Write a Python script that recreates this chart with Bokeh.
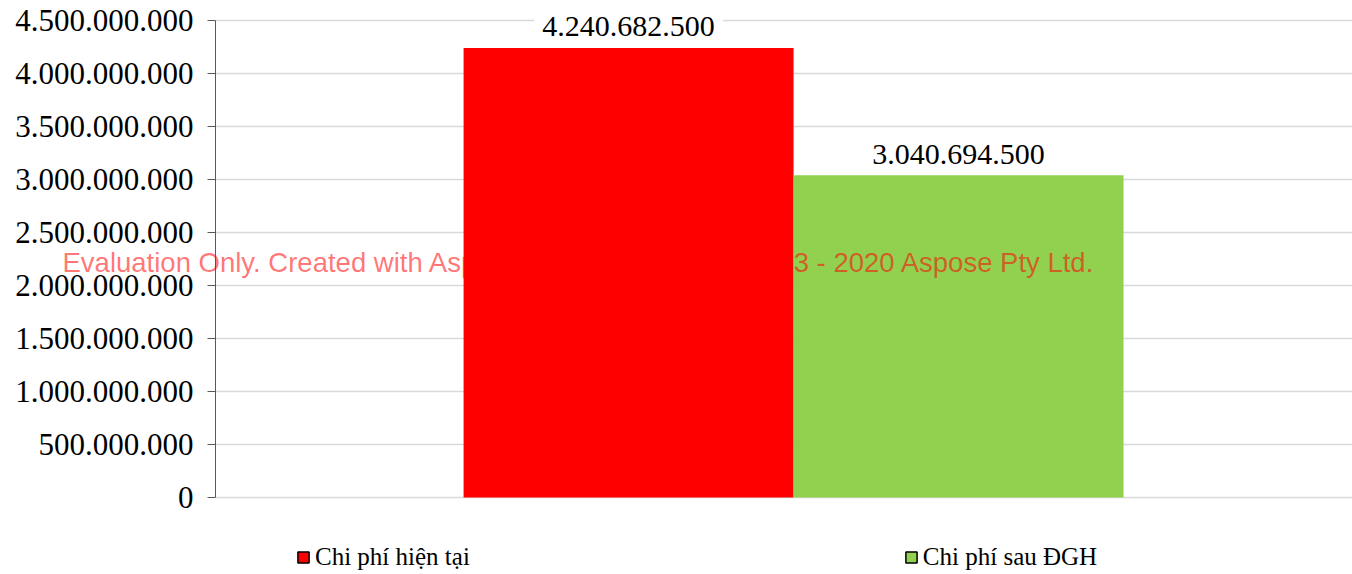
from bokeh.plotting import figure
from bokeh.models import (ColumnDataSource, Range1d, FixedTicker, CustomJSTickFormatter,
                          Label, Legend, LegendItem)
from bokeh.transform import dodge
from bokeh.embed import file_html
from bokeh.resources import INLINE

# ---- data ----
categories = [0]
series_names = ["Chi phí hiện tại", "Chi phí sau ĐGH"]
series_values = [4240682500, 3040694500]
series_colors = ["#ff0000", "#92d050"]
y_ticks = [0, 500000000, 1000000000, 1500000000, 2000000000, 2500000000,
           3000000000, 3500000000, 4000000000, 4500000000]

def fmt(v):
    return f"{v:,}".replace(",", ".")

# ---- layout (pixels) ----
W, H = 1352, 574
TOP, PLOT_BOTTOM = 20, 497      # rows of y max and y = 0
AXIS_X = 215                    # column of the y axis
per_px_y = y_ticks[-1] / (PLOT_BOTTOM - TOP)
y_start = -(H - PLOT_BOTTOM) * per_px_y
y_end = y_ticks[-1] + TOP * per_px_y
per_px_x = 1.0 / 1137
axis_loc = -0.5084
x_start = axis_loc - AXIS_X * per_px_x
x_end = axis_loc + (W - AXIS_X) * per_px_x

p = figure(width=W, height=H, output_backend="svg", toolbar_location=None,
           x_range=Range1d(x_start, x_end), y_range=Range1d(y_start, y_end),
           min_border_left=0, min_border_right=0, min_border_top=0, min_border_bottom=0)
p.outline_line_color = None
p.background_fill_color = "white"
p.border_fill_color = "white"

bar_w = 0.2902
offsets = [-bar_w / 2, bar_w / 2]
SERIF = "Liberation Serif"

proxies = []
for i, (name, val, col, off) in enumerate(zip(series_names, series_values, series_colors, offsets)):
    src = ColumnDataSource(dict(x=categories, top=[val]))
    p.vbar(x=dodge("x", off, range=p.x_range), top="top", width=bar_w, source=src,
           fill_color=col, line_color=None)
    lab = Label(x=categories[0] + off, y=val, text=fmt(val),
                text_align="center", text_baseline="middle", y_offset=21,
                text_font=SERIF, text_font_size="30px", text_color="black")
    if i == 0:
        lab.background_fill_color = "white"
        lab.padding = 8
    p.add_layout(lab)
    # legend swatch (hidden renderer, only used for the legend glyph with dark outline)
    proxy = p.vbar(x=dodge("x", off, range=p.x_range), top="top", width=bar_w, source=src,
                   fill_color=col, line_color="black", line_width=1.5, visible=False)
    proxies.append((name, proxy))

# axes
p.xaxis.visible = False
p.xgrid.visible = False
p.yaxis.fixed_location = axis_loc
p.yaxis.bounds = (0, y_ticks[-1])
p.yaxis.ticker = FixedTicker(ticks=y_ticks)
p.yaxis.formatter = CustomJSTickFormatter(code="""
    return Math.round(tick).toString().replace(/\\B(?=(\\d{3})+(?!\\d))/g, ".");
""")
p.yaxis.major_label_text_font = SERIF
p.yaxis.major_label_text_font_size = "31px"
p.yaxis.major_label_text_color = "black"
p.yaxis.axis_line_color = "#595959"
p.yaxis.major_tick_line_color = "#595959"
p.yaxis.major_tick_out = 8
p.yaxis.major_tick_in = 0
p.yaxis.minor_tick_line_color = None
p.yaxis.major_label_standoff = 14
p.ygrid.ticker = FixedTicker(ticks=y_ticks)
p.ygrid.grid_line_color = "#d9d9d9"
p.ygrid.grid_line_width = 1.5
p.ygrid.cross_bounds = (axis_loc, x_end)

# legend
legend = Legend(items=[LegendItem(label=n, renderers=[r]) for n, r in proxies],
                orientation="horizontal", location=(AXIS_X + 81, 3),
                label_text_font=SERIF, label_text_font_size="25px", label_text_color="black",
                glyph_width=14, glyph_height=14, label_standoff=5, spacing=434,
                padding=0, margin=0, border_line_color=None, background_fill_alpha=0,
                inactive_fill_alpha=0)
p.add_layout(legend, "center")

# watermark
wm = Label(x=62, y=H - 262, x_units="screen", y_units="screen",
           text="Evaluation Only. Created with Aspose.Words. Copyright 2003 - 2020 Aspose Pty Ltd.",
           text_font="Liberation Sans", text_font_size="27.5px", text_color="#ff0000",
           text_alpha=0.55, text_baseline="middle", text_align="left")
p.add_layout(wm)

open("out.html", "w").write(file_html(p, INLINE))
